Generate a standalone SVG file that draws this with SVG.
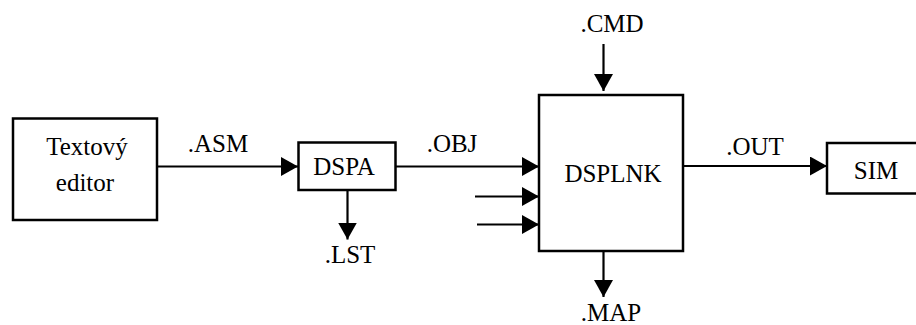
<svg xmlns="http://www.w3.org/2000/svg" width="916" height="325" viewBox="0 0 916 325">
<style>
.box{fill:#fff;stroke:#000;stroke-width:2.5}
.ln{fill:none;stroke:#000;stroke-width:2.2}
</style>
<defs>
<marker id="ah" markerUnits="userSpaceOnUse" markerWidth="18" markerHeight="20" refX="17" refY="9.5" orient="auto">
<path d="M0,0 L17,9.5 L0,19 z" fill="#000"/>
</marker>
</defs>
<rect width="916" height="325" fill="#fff"/>
<g id="connectors">
<line class="ln" x1="157" y1="166.5" x2="298" y2="166.5" marker-end="url(#ah)"/>
<line class="ln" x1="396" y1="166.5" x2="539" y2="166.5" marker-end="url(#ah)"/>
<line class="ln" x1="475" y1="196.5" x2="539" y2="196.5" marker-end="url(#ah)"/>
<line class="ln" x1="477" y1="224.5" x2="539" y2="224.5" marker-end="url(#ah)"/>
<line class="ln" x1="347.5" y1="190" x2="347.5" y2="239.5" marker-end="url(#ah)"/>
<line class="ln" x1="603.5" y1="44" x2="603.5" y2="91" marker-end="url(#ah)"/>
<line class="ln" x1="603.5" y1="251" x2="603.5" y2="297" marker-end="url(#ah)"/>
<line class="ln" x1="683" y1="166" x2="827" y2="166" marker-end="url(#ah)"/>
</g>
<g id="labels" font-family="'Liberation Serif', 'Times New Roman', Tinos, 'DejaVu Serif', 'Noto Serif', serif" font-size="25" text-anchor="middle" fill="#000">
<text x="218" y="152">.ASM</text>
<text x="452" y="152">.OBJ</text>
<text x="755" y="155">.OUT</text>
<text x="350" y="263">.LST</text>
<text x="612" y="32">.CMD</text>
<text x="611" y="321">.MAP</text>
</g>
<g id="nodes" font-family="'Liberation Serif', 'Times New Roman', Tinos, 'DejaVu Serif', 'Noto Serif', serif" font-size="25" text-anchor="middle" fill="#000">
<g id="editor">
<rect class="box" x="13" y="118.5" width="144" height="101.5"/>
<text x="87" y="155">Textový</text>
<text x="85" y="191">editor</text>
</g>
<g id="dspa">
<rect class="box" x="298.5" y="142.5" width="97" height="47.5"/>
<text x="344" y="175">DSPA</text>
</g>
<g id="dsplnk">
<rect class="box" x="539" y="95" width="144" height="156"/>
<text x="613" y="182">DSPLNK</text>
</g>
<g id="sim">
<rect class="box" x="827" y="143" width="100" height="50.5"/>
<text x="876" y="178.5">SIM</text>
</g>
</g>
</svg>
